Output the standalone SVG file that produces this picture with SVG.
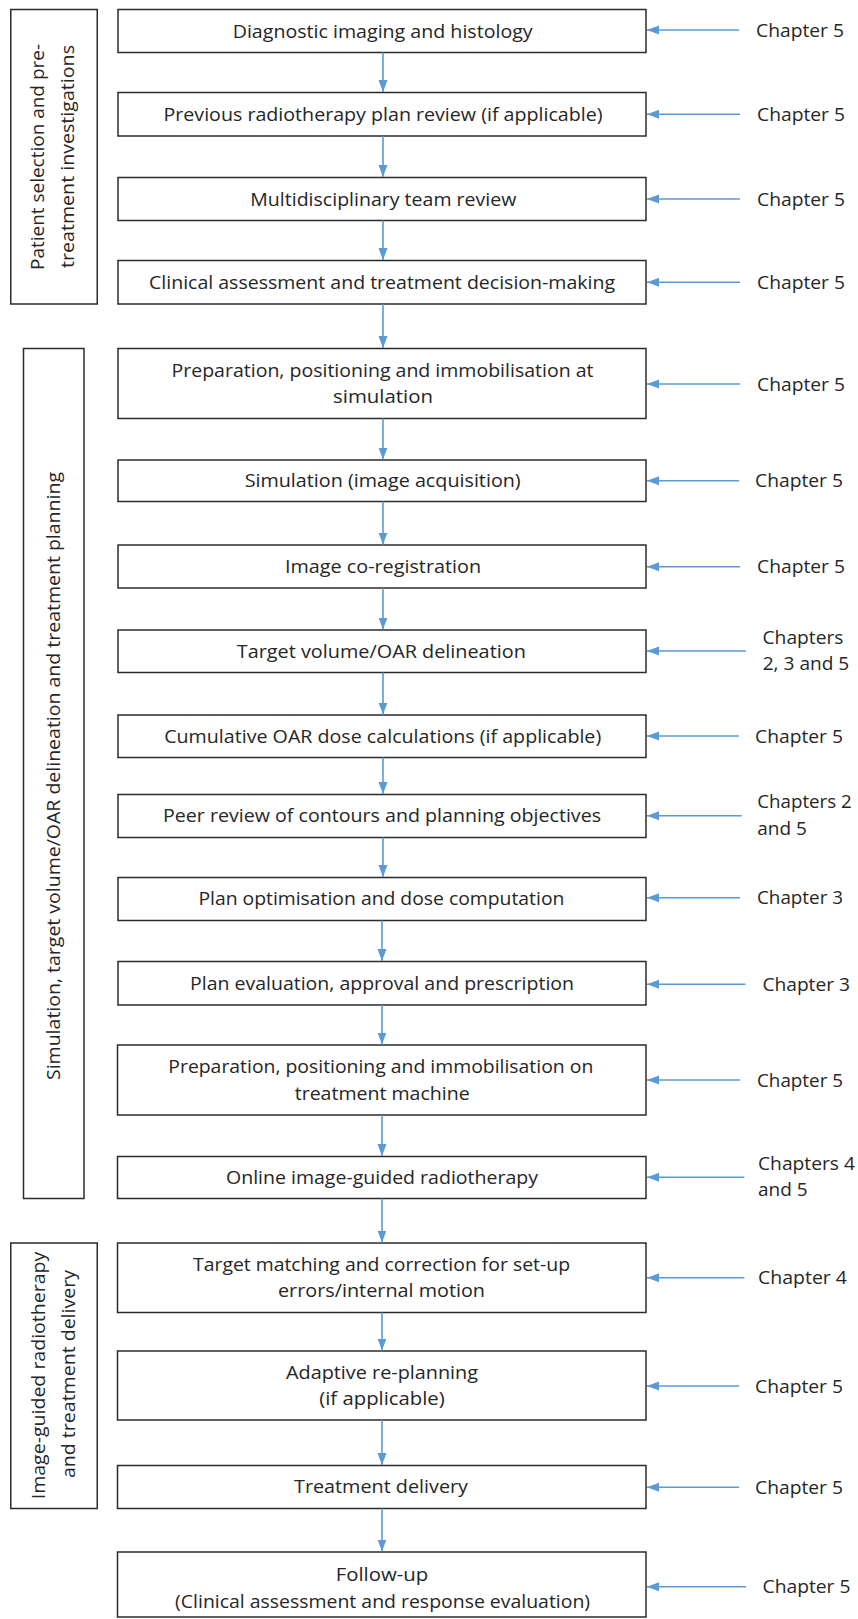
<svg xmlns="http://www.w3.org/2000/svg" width="858" height="1619" viewBox="0 0 858 1619">
<style>
.box{fill:#fff;stroke:#2b2b2b;stroke-width:1.5}
.t{font-family:"Open Sans","Noto Sans",sans-serif;font-size:18px;fill:#262626;text-anchor:middle}
.c{font-family:"Open Sans","Noto Sans",sans-serif;font-size:18.5px;fill:#262626}
.g{font-family:"Open Sans","DejaVu Sans",sans-serif;font-size:17.5px;fill:#262626;text-anchor:middle}
.a{stroke:#5B9BD5;stroke-width:1.6;fill:none}
</style>
<defs>
<marker id="ah" markerUnits="userSpaceOnUse" markerWidth="12" markerHeight="10" refX="12" refY="5" orient="auto">
<path d="M0,0.5 L12,5 L0,9.5 z" fill="#5B9BD5"/>
</marker>
</defs>
<rect width="858" height="1619" fill="#fff"/>

<g id="group-patient-selection">
<rect class="box" x="10.75" y="9.5" width="86.5" height="294.5"/>
<text class="g" transform="translate(44,157) rotate(-90)" textLength="226" lengthAdjust="spacingAndGlyphs">Patient selection and pre-</text>
<text class="g" transform="translate(73.5,156.5) rotate(-90)" textLength="223" lengthAdjust="spacingAndGlyphs">treatment investigations</text>
</g>
<g id="group-simulation">
<rect class="box" x="23.5" y="348.5" width="60.5" height="850"/>
<text class="g" transform="translate(60,776) rotate(-90)" textLength="608" lengthAdjust="spacingAndGlyphs">Simulation, target volume/OAR delineation and treatment planning</text>
</g>
<g id="group-igrt">
<rect class="box" x="10.75" y="1243" width="86.5" height="265.5"/>
<text class="g" transform="translate(45,1375.5) rotate(-90)" textLength="247.6" lengthAdjust="spacingAndGlyphs">Image-guided radiotherapy</text>
<text class="g" transform="translate(75,1374) rotate(-90)" textLength="208" lengthAdjust="spacingAndGlyphs">and treatment delivery</text>
</g>

<g id="n1"><rect class="box" x="118" y="9.5" width="528" height="43"/><text class="t" x="382.7" y="37.5" textLength="300" lengthAdjust="spacingAndGlyphs">Diagnostic imaging and histology</text></g>
<g id="n2"><rect class="box" x="118" y="92.5" width="528" height="43.5"/><text class="t" x="383" y="120.5" textLength="439" lengthAdjust="spacingAndGlyphs">Previous radiotherapy plan review (if applicable)</text></g>
<g id="n3"><rect class="box" x="118" y="177.5" width="528" height="43"/><text class="t" x="383.3" y="205.5" textLength="266" lengthAdjust="spacingAndGlyphs">Multidisciplinary team review</text></g>
<g id="n4"><rect class="box" x="118" y="260.5" width="528" height="43.5"/><text class="t" x="382" y="288.5" textLength="466" lengthAdjust="spacingAndGlyphs">Clinical assessment and treatment decision-making</text></g>
<g id="n5"><rect class="box" x="118" y="348.5" width="528" height="70"/><text class="t" x="382.5" y="376.5" textLength="422" lengthAdjust="spacingAndGlyphs">Preparation, positioning and immobilisation at</text><text class="t" x="383" y="403" textLength="100" lengthAdjust="spacingAndGlyphs">simulation</text></g>
<g id="n6"><rect class="box" x="118" y="460" width="528" height="41.5"/><text class="t" x="382.7" y="487" textLength="276" lengthAdjust="spacingAndGlyphs">Simulation (image acquisition)</text></g>
<g id="n7"><rect class="box" x="118" y="545" width="528" height="43"/><text class="t" x="383" y="573" textLength="196" lengthAdjust="spacingAndGlyphs">Image co-registration</text></g>
<g id="n8"><rect class="box" x="118" y="630" width="528" height="42.5"/><text class="t" x="381.3" y="657.5" textLength="289" lengthAdjust="spacingAndGlyphs">Target volume/OAR delineation</text></g>
<g id="n9"><rect class="box" x="118" y="715" width="528" height="42.5"/><text class="t" x="382.7" y="742.5" textLength="437" lengthAdjust="spacingAndGlyphs">Cumulative OAR dose calculations (if applicable)</text></g>
<g id="n10"><rect class="box" x="118" y="794.5" width="528" height="43"/><text class="t" x="382" y="822" textLength="438" lengthAdjust="spacingAndGlyphs">Peer review of contours and planning objectives</text></g>
<g id="n11"><rect class="box" x="118" y="877.5" width="528" height="43"/><text class="t" x="381.4" y="905" textLength="366" lengthAdjust="spacingAndGlyphs">Plan optimisation and dose computation</text></g>
<g id="n12"><rect class="box" x="118" y="961.5" width="528" height="43.5"/><text class="t" x="382" y="989.5" textLength="384" lengthAdjust="spacingAndGlyphs">Plan evaluation, approval and prescription</text></g>
<g id="n13"><rect class="box" x="117.5" y="1045" width="528.5" height="70"/><text class="t" x="380.8" y="1073" textLength="425" lengthAdjust="spacingAndGlyphs">Preparation, positioning and immobilisation on</text><text class="t" x="382.2" y="1099.6" textLength="175" lengthAdjust="spacingAndGlyphs">treatment machine</text></g>
<g id="n14"><rect class="box" x="117.5" y="1156.5" width="528.5" height="42"/><text class="t" x="382" y="1183.5" textLength="312" lengthAdjust="spacingAndGlyphs">Online image-guided radiotherapy</text></g>
<g id="n15"><rect class="box" x="117.5" y="1243" width="528.5" height="69.5"/><text class="t" x="381.5" y="1270.6" textLength="377" lengthAdjust="spacingAndGlyphs">Target matching and correction for set-up</text><text class="t" x="381.5" y="1297" textLength="207" lengthAdjust="spacingAndGlyphs">errors/internal motion</text></g>
<g id="n16"><rect class="box" x="117.5" y="1351" width="528.5" height="69"/><text class="t" x="382" y="1378.6" textLength="192" lengthAdjust="spacingAndGlyphs">Adaptive re-planning</text><text class="t" x="382" y="1405.3" textLength="125.5" lengthAdjust="spacingAndGlyphs">(if applicable)</text></g>
<g id="n17"><rect class="box" x="117.5" y="1465.5" width="528.5" height="43"/><text class="t" x="381" y="1493" textLength="174" lengthAdjust="spacingAndGlyphs">Treatment delivery</text></g>
<g id="n18"><rect class="box" x="117.5" y="1552" width="528.5" height="65"/><text class="t" x="382" y="1581.3" textLength="92.6" lengthAdjust="spacingAndGlyphs">Follow-up</text><text class="t" x="382.6" y="1608" textLength="415" lengthAdjust="spacingAndGlyphs">(Clinical assessment and response evaluation)</text></g>

<g id="chapters">
<text class="c" x="756" y="37" textLength="88" lengthAdjust="spacingAndGlyphs">Chapter 5</text>
<text class="c" x="757" y="121" textLength="88" lengthAdjust="spacingAndGlyphs">Chapter 5</text>
<text class="c" x="757" y="205.7" textLength="88" lengthAdjust="spacingAndGlyphs">Chapter 5</text>
<text class="c" x="757" y="289" textLength="88" lengthAdjust="spacingAndGlyphs">Chapter 5</text>
<text class="c" x="757" y="390.7" textLength="88" lengthAdjust="spacingAndGlyphs">Chapter 5</text>
<text class="c" x="755" y="487.4" textLength="88" lengthAdjust="spacingAndGlyphs">Chapter 5</text>
<text class="c" x="757" y="573.4" textLength="88" lengthAdjust="spacingAndGlyphs">Chapter 5</text>
<text class="c" x="762.5" y="643.5" textLength="81" lengthAdjust="spacingAndGlyphs">Chapters</text>
<text class="c" x="762.7" y="670" textLength="86.6" lengthAdjust="spacingAndGlyphs">2, 3 and 5</text>
<text class="c" x="755" y="742.7" textLength="88" lengthAdjust="spacingAndGlyphs">Chapter 5</text>
<text class="c" x="757.3" y="808.3" textLength="94.4" lengthAdjust="spacingAndGlyphs">Chapters 2</text>
<text class="c" x="757.3" y="835" textLength="49.5" lengthAdjust="spacingAndGlyphs">and 5</text>
<text class="c" x="757" y="904.4" textLength="86" lengthAdjust="spacingAndGlyphs">Chapter 3</text>
<text class="c" x="762.4" y="991" textLength="87.6" lengthAdjust="spacingAndGlyphs">Chapter 3</text>
<text class="c" x="757" y="1086.7" textLength="86" lengthAdjust="spacingAndGlyphs">Chapter 5</text>
<text class="c" x="758" y="1170" textLength="97" lengthAdjust="spacingAndGlyphs">Chapters 4</text>
<text class="c" x="758" y="1196.3" textLength="49.5" lengthAdjust="spacingAndGlyphs">and 5</text>
<text class="c" x="758" y="1284.3" textLength="89" lengthAdjust="spacingAndGlyphs">Chapter 4</text>
<text class="c" x="755" y="1392.7" textLength="88" lengthAdjust="spacingAndGlyphs">Chapter 5</text>
<text class="c" x="755" y="1494" textLength="88" lengthAdjust="spacingAndGlyphs">Chapter 5</text>
<text class="c" x="762.5" y="1593.4" textLength="88" lengthAdjust="spacingAndGlyphs">Chapter 5</text>
</g>

<g id="connectors">
<line class="a" x1="383" y1="52.5" x2="383" y2="92" marker-end="url(#ah)"/>
<line class="a" x1="383" y1="136" x2="383" y2="177" marker-end="url(#ah)"/>
<line class="a" x1="383" y1="220.5" x2="383" y2="260" marker-end="url(#ah)"/>
<line class="a" x1="383" y1="304" x2="383" y2="348" marker-end="url(#ah)"/>
<line class="a" x1="383" y1="418.5" x2="383" y2="459.5" marker-end="url(#ah)"/>
<line class="a" x1="383" y1="501.5" x2="383" y2="544.5" marker-end="url(#ah)"/>
<line class="a" x1="383" y1="588" x2="383" y2="629.5" marker-end="url(#ah)"/>
<line class="a" x1="383" y1="672.5" x2="383" y2="714.5" marker-end="url(#ah)"/>
<line class="a" x1="383" y1="757.5" x2="383" y2="794" marker-end="url(#ah)"/>
<line class="a" x1="383" y1="837.5" x2="383" y2="877" marker-end="url(#ah)"/>
<line class="a" x1="382" y1="920.5" x2="382" y2="961" marker-end="url(#ah)"/>
<line class="a" x1="382" y1="1005" x2="382" y2="1044.5" marker-end="url(#ah)"/>
<line class="a" x1="382" y1="1115" x2="382" y2="1156" marker-end="url(#ah)"/>
<line class="a" x1="382" y1="1198.5" x2="382" y2="1242.5" marker-end="url(#ah)"/>
<line class="a" x1="382" y1="1312.5" x2="382" y2="1350.5" marker-end="url(#ah)"/>
<line class="a" x1="382" y1="1420" x2="382" y2="1465" marker-end="url(#ah)"/>
<line class="a" x1="382" y1="1508.5" x2="382" y2="1551.5" marker-end="url(#ah)"/>

<line class="a" x1="739" y1="30" x2="647" y2="30" marker-end="url(#ah)"/>
<line class="a" x1="740" y1="114.3" x2="647" y2="114.3" marker-end="url(#ah)"/>
<line class="a" x1="740" y1="199" x2="647" y2="199" marker-end="url(#ah)"/>
<line class="a" x1="740" y1="282.3" x2="647" y2="282.3" marker-end="url(#ah)"/>
<line class="a" x1="740" y1="384" x2="647" y2="384" marker-end="url(#ah)"/>
<line class="a" x1="739" y1="480.7" x2="647" y2="480.7" marker-end="url(#ah)"/>
<line class="a" x1="740" y1="566.7" x2="647" y2="566.7" marker-end="url(#ah)"/>
<line class="a" x1="746" y1="651" x2="647" y2="651" marker-end="url(#ah)"/>
<line class="a" x1="739" y1="736" x2="647" y2="736" marker-end="url(#ah)"/>
<line class="a" x1="741.7" y1="815.7" x2="647" y2="815.7" marker-end="url(#ah)"/>
<line class="a" x1="740" y1="897.7" x2="647" y2="897.7" marker-end="url(#ah)"/>
<line class="a" x1="745.5" y1="984.3" x2="647" y2="984.3" marker-end="url(#ah)"/>
<line class="a" x1="740" y1="1080" x2="647" y2="1080" marker-end="url(#ah)"/>
<line class="a" x1="744.4" y1="1177.3" x2="647" y2="1177.3" marker-end="url(#ah)"/>
<line class="a" x1="744.4" y1="1277.7" x2="647" y2="1277.7" marker-end="url(#ah)"/>
<line class="a" x1="739" y1="1386" x2="647" y2="1386" marker-end="url(#ah)"/>
<line class="a" x1="739" y1="1487.3" x2="647" y2="1487.3" marker-end="url(#ah)"/>
<line class="a" x1="746" y1="1586.7" x2="647" y2="1586.7" marker-end="url(#ah)"/>
</g>
</svg>
